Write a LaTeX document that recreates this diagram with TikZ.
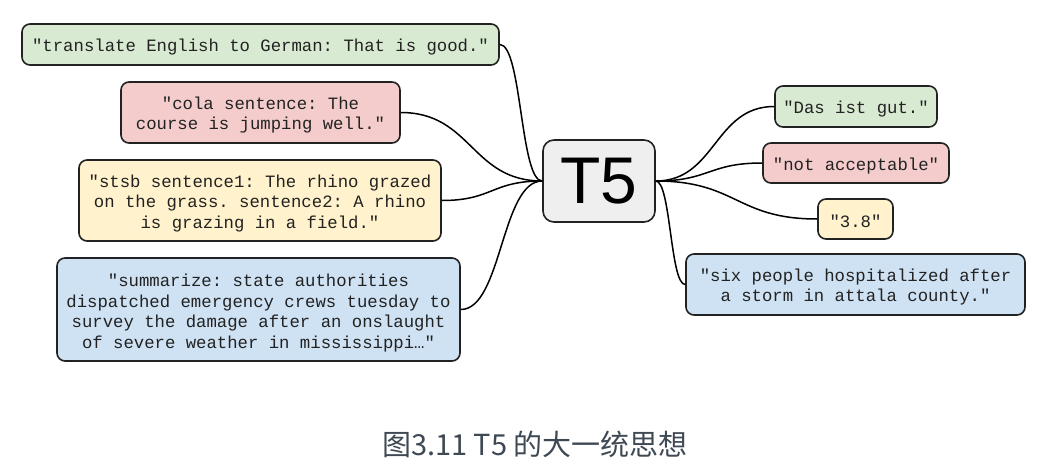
\documentclass[tikz,border=0pt]{standalone}
\usepackage{fontspec}
\newfontfamily\monof{Liberation Mono}
\newfontfamily\sansf{Liberation Sans}
\newfontfamily\cjkf{Noto Sans CJK SC}
\newcommand\toprule[1]{\rule{0pt}{#1}}
\definecolor{cgreen}{HTML}{D9EAD3}
\definecolor{cred}{HTML}{F4CCCC}
\definecolor{cyellow}{HTML}{FFF2CC}
\definecolor{cblue}{HTML}{CFE2F3}
\definecolor{cgray}{HTML}{EFEFEF}
\definecolor{ctext}{HTML}{222222}
\definecolor{ccap}{HTML}{3F4954}
\begin{document}
\begin{tikzpicture}[x=1pt,y=-1pt,
  box/.style={draw=ctext,line width=1.6pt,rounded corners=8pt,inner sep=0pt,
    align=center,text=ctext,font=\monof\fontsize{17.3}{20.4}\selectfont\frenchspacing},
  link/.style={line width=1.5pt,draw=black}]
\useasboundingbox (0,0) rectangle (1060,471);
% left boxes
\node[box,fill=cgreen,minimum width=477pt,minimum height=41pt] (b1) at (260.5,44.5)
  {\toprule{17.8pt}"translate English to German: That is good."};
\node[box,fill=cred,minimum width=279pt,minimum height=61pt] (b2) at (260.5,112.5)
  {\toprule{17.8pt}"cola sentence: The\\course is jumping well."};
\node[box,fill=cyellow,minimum width=362pt,minimum height=81pt] (b3) at (260,200.5)
  {\toprule{18.4pt}"stsb sentence1: The rhino grazed\\on the grass. sentence2: A rhino\\is grazing in a field."};
\node[box,fill=cblue,minimum width=403pt,minimum height=103pt] (b4) at (258.5,309.5)
  {\toprule{19.6pt}"summarize: state authorities\\dispatched emergency crews tuesday to\\survey the damage after an onslaught\\of severe weather in mississippi…"};
% center
\node[box,fill=cgray,minimum width=112pt,minimum height=82pt,rounded corners=11pt,
  font=\sansf\fontsize{66}{66}\selectfont,text=black] (t5) at (599,181) {T5};
% right boxes
\node[box,fill=cgreen,minimum width=162pt,minimum height=41pt] (r1) at (856,106.5) {\toprule{17.8pt}"Das ist gut."};
\node[box,fill=cred,minimum width=186pt,minimum height=40pt] (r2) at (856,163) {\toprule{17.8pt}"not acceptable"};
\node[box,fill=cyellow,minimum width=75pt,minimum height=40pt] (r3) at (855.5,219) {\toprule{17.8pt}"3.8"};
\node[box,fill=cblue,minimum width=339pt,minimum height=61pt] (r4) at (855.5,284.5)
  {\toprule{17.4pt}"six people hospitalized after\\a storm in attala county."};
% connectors
\draw[link] (b1.east) .. controls ([xshift=22pt]b1.east) and ([xshift=-22pt]t5.west) .. (t5.west);
\draw[link] (b2.east) .. controls ([xshift=71pt]b2.east) and ([xshift=-71pt]t5.west) .. (t5.west);
\draw[link] (b3.east) .. controls ([xshift=51pt]b3.east) and ([xshift=-51pt]t5.west) .. (t5.west);
\draw[link] (b4.east) .. controls ([xshift=41pt]b4.east) and ([xshift=-41pt]t5.west) .. (t5.west);
\draw[link] (t5.east) .. controls ([xshift=60pt]t5.east) and ([xshift=-60pt]r1.west) .. (r1.west);
\draw[link] (t5.east) .. controls ([xshift=54pt]t5.east) and ([xshift=-54pt]r2.west) .. (r2.west);
\draw[link] (t5.east) .. controls ([xshift=81pt]t5.east) and ([xshift=-81pt]r3.west) .. (r3.west);
\draw[link] (t5.east) .. controls ([xshift=15pt]t5.east) and ([xshift=-15pt]r4.west) .. (r4.west);
% caption
\node[text=ccap,font=\cjkf\fontsize{29}{31}\selectfont,inner sep=0pt] (cap) at (535,444) {图3.11 T5 的大一统思想};
\end{tikzpicture}
\end{document}
